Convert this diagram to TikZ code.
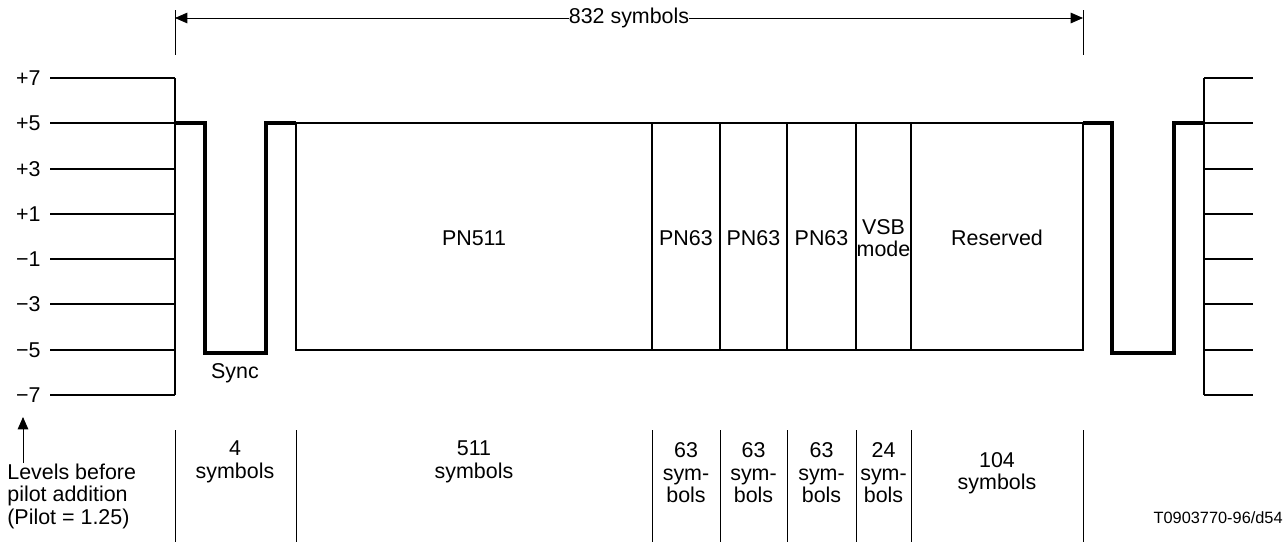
\documentclass[tikz,border=0pt]{standalone}
\usepackage{fontspec}
\setmainfont{Liberation Sans}
\usetikzlibrary{arrows.meta}

\begin{document}
\begin{tikzpicture}[x=0.02cm,y=-0.02cm,font=\fontsize{12.2}{12.8}\selectfont,
  lvl/.style={line width=0.9pt},
  wave/.style={line width=2.4pt,line join=miter},
  fld/.style={line width=0.7pt},
  sep/.style={line width=0.5pt},
  dim/.style={line width=0.5pt,{Triangle[length=7pt,width=6pt]}-{Triangle[length=7pt,width=6pt]}},
  arr/.style={line width=0.5pt,-{Triangle[length=7pt,width=6pt]}}]
\useasboundingbox (0,0) rectangle (1287,542);
% level lines, left and right
\foreach \v/\y in {+7/78,+5/123,+3/169,+1/214,−1/259,−3/304,−5/350,−7/395}{
  \draw[lvl] (50,\y) -- (175,\y);
  \draw[lvl] (1204,\y) -- (1253,\y);
  \node[anchor=east,inner sep=0] (l\y) at (41,\y) {\v};}
\draw[lvl] (175,78) -- (175,395);
\draw[lvl] (1204,78) -- (1204,395);
% sync pulses
\draw[wave] (175,123) -| (205,353) -| (266,123) -- (296,123);
\draw[wave] (1083,123) -| (1112,353) -| (1174,123) -- (1204,123);
% fields
\foreach \a/\b/\t/\n in {296/652/PN511/pn,652/720/PN63/pa,720/787/PN63/pb,787/856/PN63/pc,856/911/{VSB\\mode}/vsb,911/1083/Reserved/res}{
  \draw[fld] (\a,123) rectangle (\b,350);
  \node[align=center,inner sep=1pt] (\n) at ({(\a+\b)/2},238) {\t};}
\node (sync) at (235,373) {Sync};
% 832 symbols
\draw[sep] (175,10) -- (175,55);
\draw[sep] (1083,10) -- (1083,55);
\coordinate (ta) at (175,18);
\coordinate (tb) at (1083,18);
\draw[dim] (ta) -- (tb) node[midway,fill=white,inner sep=0] (tot) {832 symbols};
% lengths
\foreach \x in {175,296,652,720,787,856,911,1083}{\draw[sep] (\x,430) -- (\x,542);}
\node[align=center] (s4) at (235,462) {4\\symbols};
\node[align=center] (s511) at (474,462) {511\\symbols};
\foreach \x/\n/\k in {686/63/a,753.5/63/b,821.5/63/c,883.5/24/d}{
  \node[align=center,inner sep=1pt] (c\k) at (\x,473) {\n\\sym-\\bols};}
\node[align=center] (s104) at (997,473) {104\\symbols};
\node[align=left,anchor=west,inner sep=0] (lev) at (7,496) {Levels before\\pilot addition\\(Pilot = 1.25)};
\coordinate (tip) at (23,417);
\draw[arr] (lev.north -| tip) -- (tip);
\node[anchor=east,inner sep=0,font=\fontsize{9.3}{10}\selectfont] (fig) at (1283,518) {T0903770-96/d54};
\end{tikzpicture}
\end{document}
